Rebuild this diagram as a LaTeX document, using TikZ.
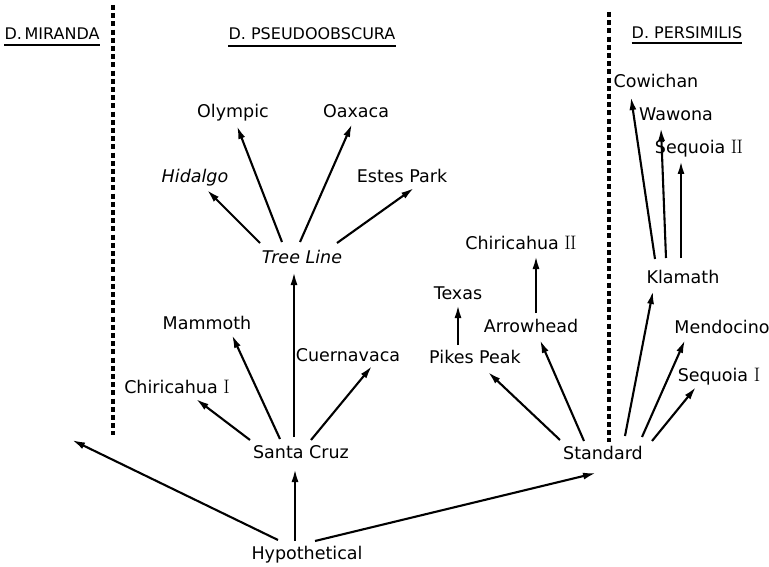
\documentclass[tikz,border=0pt]{standalone}
\usepackage{fontspec}
\setmainfont{DejaVu Sans}
\newfontfamily\romnum{Latin Modern Roman}
\newcommand{\rmI}{{\romnum\fontsize{19.5}{20}\selectfont I}}
\newcommand{\rmII}{{\romnum\fontsize{19.5}{20}\selectfont I\kern-0.7ptI}}
\usetikzlibrary{arrows.meta}
\begin{document}
\begin{tikzpicture}[x=1pt,y=-1pt,
  lbl/.style={inner sep=0pt, text height=12pt, text depth=0pt, font=\fontsize{17.5}{19}\selectfont},
  hdr/.style={inner sep=0pt, text height=11pt, text depth=0pt, font=\fontsize{16}{18}\selectfont},
  arw/.style={line width=2.1pt, -{Latex[length=13pt,width=7pt]}},
  sep/.style={line width=4.8pt, dash pattern=on 5pt off 3.2pt},
  uline/.style={line width=1.5pt}]
\useasboundingbox (0,0) rectangle (769,567);
% headers
\node[hdr] (mir) at (52,34) {D.\,MIRANDA};
\node[hdr] (pse) at (312,34) {D. PSEUDOOBSCURA};
\node[hdr] (per) at (687,33) {D. PERSIMILIS};
\draw[uline] ([shift={(0,5.5)}]mir.south west) -- ([shift={(0,5.5)}]mir.south east);
\draw[uline] ([shift={(0,6.5)}]pse.south west) -- ([shift={(0,6.5)}]pse.south east);
\draw[uline] ([shift={(0,4.5)}]per.south west) -- ([shift={(0,4.5)}]per.south east);
% separators
\draw[sep] (113,5) -- (113,435);
\draw[sep] (609,12) -- (609,442);
% nodes
\node[lbl] (hyp) at (307,553) {Hypothetical};
\node[lbl] (sc) at (301,452) {Santa Cruz};
\node[lbl] (std) at (603,453) {Standard};
\node[lbl] (chi1) at (177,387) {Chiricahua \rmI};
\node[lbl] (mam) at (207,323) {Mammoth};
\node[lbl] (cue) at (348,355) {Cuernavaca};
\node[lbl] (tl) at (302,257) {\itshape Tree Line};
\node[lbl] (hid) at (195,177) {\itshape Hidalgo};
\node[lbl] (oly) at (233,112) {Olympic};
\node[lbl] (oax) at (356,112) {Oaxaca};
\node[lbl] (est) at (402,177) {Estes Park};
\node[lbl] (pp) at (475,357) {Pikes Peak};
\node[lbl] (tex) at (458,293) {Texas};
\node[lbl] (arr) at (531,326) {Arrowhead};
\node[lbl] (chi2) at (521,243) {Chiricahua \rmII};
\node[lbl] (kla) at (683,277) {Klamath};
\node[lbl] (men) at (722,327) {Mendocino};
\node[lbl] (seq1) at (719,375) {Sequoia \rmI};
\node[lbl] (cow) at (656,82) {Cowichan};
\node[lbl] (waw) at (676,115) {Wawona};
\node[lbl] (seq2) at (699,148) {Sequoia \rmII};
\coordinate (mirend) at (72,440);
% arrows
\draw[arw] ([shift={(-29,-13)}]hyp.center) -- (mirend);
\draw[arw] ([shift={(-12,-12)}]hyp.center) -- ([shift={(-6,17)}]sc.center);
\draw[arw] ([shift={(8,-12)}]hyp.center) -- ([shift={(-7,20)}]std.center);
\draw[arw] ([shift={(-51,-12)}]sc.center) -- ([shift={(19,12)}]chi1.center);
\draw[arw] ([shift={(-21,-13)}]sc.center) -- ([shift={(25,12)}]mam.center);
\draw[arw] ([shift={(-7,-15)}]sc.center) -- ([shift={(-8,15)}]tl.center);
\draw[arw] ([shift={(10,-12)}]sc.center) -- ([shift={(24,11)}]cue.center);
\draw[arw] ([shift={(-42,-14)}]tl.center) -- ([shift={(12,13)}]hid.center);
\draw[arw] ([shift={(-20,-15)}]tl.center) -- ([shift={(4,14)}]oly.center);
\draw[arw] ([shift={(-2,-15)}]tl.center) -- ([shift={(-4,12)}]oax.center);
\draw[arw] ([shift={(35,-14)}]tl.center) -- ([shift={(12,11)}]est.center);
\draw[arw] ([shift={(-43,-13)}]std.center) -- ([shift={(13,15)}]pp.center);
\draw[arw] ([shift={(-19,-12)}]std.center) -- ([shift={(9,14)}]arr.center);
\draw[arw] ([shift={(-17,-12)}]pp.center) -- ([shift={(0,12)}]tex.center);
\draw[arw] ([shift={(5,-13)}]arr.center) -- ([shift={(15,13)}]chi2.center);
\draw[arw] ([shift={(22,-17)}]std.center) -- ([shift={(-30,14)}]kla.center);
\draw[arw] ([shift={(39,-16)}]std.center) -- ([shift={(-37,13)}]men.center);
\draw[arw] ([shift={(49,-12)}]std.center) -- ([shift={(-23,12)}]seq1.center);
\draw[arw] ([shift={(-28,-18)}]kla.center) -- ([shift={(-25,15)}]cow.center);
\draw[arw] ([shift={(-17,-19)}]kla.center) -- ([shift={(-15,13)}]waw.center);
\draw[arw] ([shift={(-2,-19)}]kla.center) -- ([shift={(-18,13)}]seq2.center);
\end{tikzpicture}
\end{document}
